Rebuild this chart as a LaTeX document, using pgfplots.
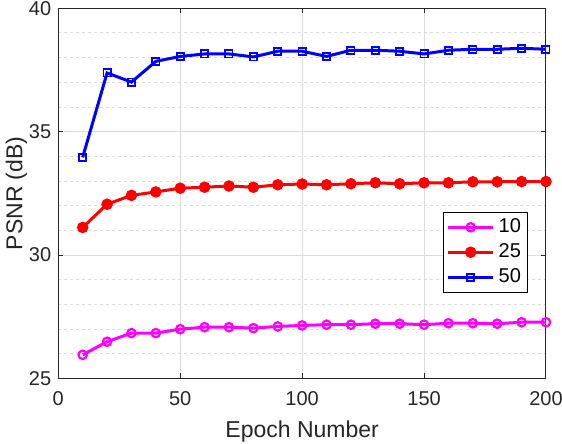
\documentclass[border=0pt]{standalone}
\usepackage{pgfplots}
\pgfplotsset{compat=1.18}
\usetikzlibrary{calc}
\usepackage{fontspec}
\setmainfont{Liberation Sans}
\definecolor{axgray}{RGB}{38,38,38}
\definecolor{gridgray}{RGB}{220,220,220}
\definecolor{mmag}{RGB}{255,0,255}
\definecolor{mred}{RGB}{255,0,0}
\definecolor{mblue}{RGB}{0,0,255}
\begin{document}
\begin{tikzpicture}
\begin{axis}[
  scale only axis,
  width=243.85pt, height=185.1pt,
  xmin=0, xmax=200, ymin=25, ymax=40,
  xtick={0,50,...,200}, ytick={25,30,35,40},
  minor y tick num=4,
  xmajorgrids, ymajorgrids, yminorgrids,
  major grid style={gridgray, line width=0.5pt},
  minor grid style={gridgray, dash pattern=on 1.5pt off 1.5pt, line width=0.5pt},
  axis line style={axgray, line width=0.5pt},
  tick style={axgray, line width=0.5pt},
  major tick length=2.5pt, minor tick length=0pt,
  tick align=inside,
  every tick label/.style={font=\fontsize{10}{12}\selectfont, text=axgray},
  xticklabel style={yshift=-3pt},
  /pgf/number format/assume math mode=true,
  xlabel={Epoch Number}, ylabel={PSNR (dB)},
  label style={font=\fontsize{11.5}{13}\selectfont, text=axgray},
  xlabel style={yshift=-0.5pt},
  ylabel style={yshift=-6pt},
  legend style={at={(0.964,0.45)}, anchor=north east, draw=black, line width=0.5pt,
    font=\fontsize{10}{12}\selectfont, inner xsep=1.5pt, inner ysep=1.2pt, row sep=0pt,
    cells={anchor=west}},
  legend image code/.code={\draw[mark repeat=2,mark phase=2,#1] plot coordinates {(0pt,0pt) (11.25pt,0pt) (22.5pt,0pt)};},
]
\addplot[mmag, line width=1.5pt, mark=o, mark size=2.1pt, mark options={line width=1.1pt}] coordinates {
(10,25.96) (20,26.49) (30,26.84) (40,26.84) (50,27.00) (60,27.08) (70,27.08) (80,27.04) (90,27.11) (100,27.15)
(110,27.18) (120,27.18) (130,27.22) (140,27.22) (150,27.18) (160,27.24) (170,27.24) (180,27.22) (190,27.28) (200,27.28)};
\addplot[mred, line width=1.5pt, mark=*, mark size=2.1pt] coordinates {
(10,31.12) (20,32.06) (30,32.42) (40,32.56) (50,32.71) (60,32.75) (70,32.80) (80,32.75) (90,32.85) (100,32.88)
(110,32.85) (120,32.89) (130,32.93) (140,32.89) (150,32.93) (160,32.93) (170,32.97) (180,32.97) (190,32.98) (200,32.98)};
\addplot[mblue, line width=1.5pt, mark=square, mark size=1.8pt, mark options={line width=0.9pt}] coordinates {
(10,33.96) (20,37.38) (30,37.01) (40,37.85) (50,38.05) (60,38.15) (70,38.15) (80,38.03) (90,38.26) (100,38.26)
(110,38.05) (120,38.30) (130,38.30) (140,38.26) (150,38.15) (160,38.30) (170,38.34) (180,38.34) (190,38.38) (200,38.34)};
\legend{10,25,50}
\coordinate (sw) at (rel axis cs:0,0);
\coordinate (ne) at (rel axis cs:1,1);
\end{axis}
\pgfresetboundingbox
\useasboundingbox ($(sw)+(-29.15pt,-32.75pt)$) rectangle ($(ne)+(8pt,4.15pt)$);
\end{tikzpicture}
\end{document}
